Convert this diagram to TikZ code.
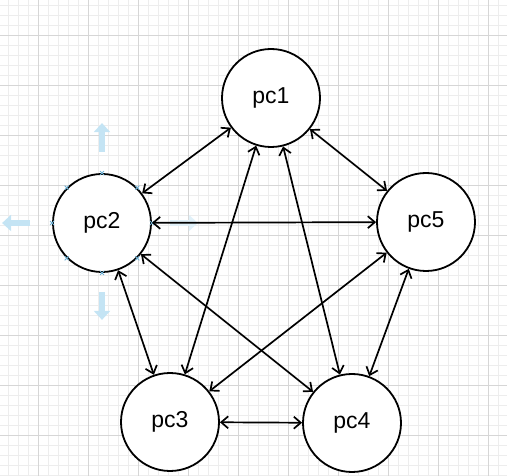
\documentclass[tikz,border=0pt]{standalone}
\usepackage{fontspec}
\setmainfont{Liberation Sans}
\usetikzlibrary{arrows.meta}
\definecolor{hintblue}{RGB}{196,228,244}
\definecolor{markblue}{RGB}{110,175,210}

\begin{document}
\begin{tikzpicture}[x=1pt,y=-1pt,
  pc/.style={draw, circle, line width=1.8pt, fill=white, minimum size=98pt, inner sep=0pt, font=\fontsize{23}{27}\selectfont},
  link/.style={line width=1.7pt, {Straight Barb[length=7pt,width=12pt]}-{Straight Barb[length=7pt,width=12pt]}},
  hint/.style={line width=6pt, hintblue, -{Triangle[length=9pt,width=16pt]}}]
\useasboundingbox (0,0) rectangle (507,476);
% grid
\foreach \x in {8,18,...,507} \draw[black!7, line width=0.5pt] (\x,0) -- (\x,476);
\foreach \y in {5,15,...,476} \draw[black!7, line width=0.5pt] (0,\y) -- (507,\y);
\foreach \x in {38,88,...,507} \draw[black!16, line width=0.6pt] (\x,0) -- (\x,476);
\foreach \y in {35,85,...,476} \draw[black!16, line width=0.6pt] (0,\y) -- (507,\y);

% the five hosts
\node[pc] (pc1) at (271,98) {pc1};
\node[pc] (pc2) at (102,223) {pc2};
\node[pc] (pc5) at (426,222) {pc5};
\node[pc] (pc3) at (170,422) {pc3};
\node[pc] (pc4) at (352,423) {pc4};

% hover arrows round pc2
\draw[hint] ([yshift=21pt]pc2.north) -- ([yshift=50pt]pc2.north);
\draw[hint] ([xshift=-22pt]pc2.west) -- ([xshift=-50pt]pc2.west);
\draw[hint] ([yshift=-19pt]pc2.south) -- ([yshift=-47pt]pc2.south);
\draw[hint, hintblue!50] ([xshift=18pt]pc2.east) -- ([xshift=46pt]pc2.east);
\foreach \a in {0,45,...,315}
  \draw[markblue, line width=0.9pt] (pc2.\a) +(-2,-2) -- +(2,2) +(-2,2) -- +(2,-2);

% every pair linked
\draw[link] (pc1) -- (pc2);
\draw[link] (pc1) -- (pc5);
\draw[link] (pc1) -- (pc3);
\draw[link] (pc1) -- (pc4);
\draw[link] (pc2) -- (pc5);
\draw[link] (pc2) -- (pc3);
\draw[link] (pc2) -- (pc4);
\draw[link] (pc5) -- (pc3);
\draw[link] (pc5) -- (pc4);
\draw[link] (pc3) -- (pc4);
\end{tikzpicture}
\end{document}
